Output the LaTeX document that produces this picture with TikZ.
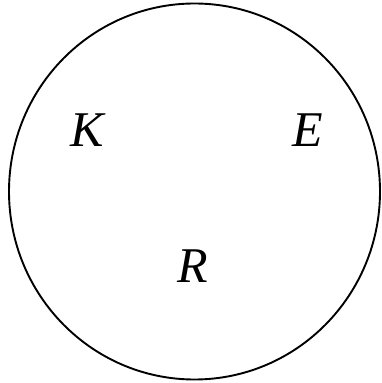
\documentclass[tikz,border=0pt]{standalone}
\usepackage{fontspec}
\setmainfont{Liberation Serif}
\newfontfamily\lblfont{Liberation Serif Italic}
\begin{document}
\begin{tikzpicture}[x=1pt,y=1pt,
  lbl/.style={anchor=base,inner sep=0pt,font=\lblfont\fontsize{50}{56}\selectfont}]
\useasboundingbox (0,0) rectangle (381,383);
\draw[line width=1.9pt] (194.5,191.5) ellipse [x radius=185.5, y radius=188];
\node[lbl] (K) at (87,236) {K};
\node[lbl] (E) at (308,236) {E};
\node[lbl] (R) at (193,100) {R};
\end{tikzpicture}
\end{document}
